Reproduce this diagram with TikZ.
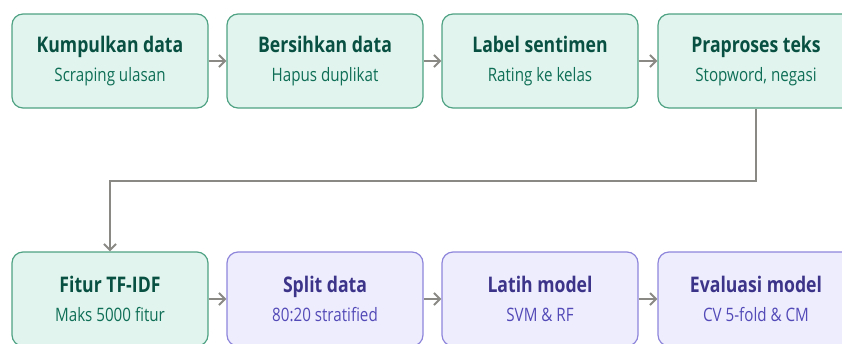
\documentclass[tikz,border=0pt]{standalone}
\usepackage{fontspec}
\setmainfont{Open Sans}[FakeStretch=0.82]
\usetikzlibrary{arrows.meta,positioning}
\definecolor{AlurHijauIsi}{HTML}{E1F5EE}
\definecolor{AlurHijauGaris}{HTML}{4FA283}
\definecolor{AlurHijauJudul}{HTML}{085041}
\definecolor{AlurHijauSub}{HTML}{0F6E56}
\definecolor{AlurUnguIsi}{HTML}{EEEDFE}
\definecolor{AlurUnguGaris}{HTML}{8E86DB}
\definecolor{AlurUnguJudul}{HTML}{3C3489}
\definecolor{AlurUnguSub}{HTML}{534AB7}
\definecolor{AlurAbu}{HTML}{8A8984}
\tikzset{
  alur/hijau/.style={
    draw=AlurHijauGaris,
    line width=1.2pt,
    rounded corners=11pt,
    fill=AlurHijauIsi,
    align=center,
    text=AlurHijauSub,
    minimum width=196pt,
    minimum height=94pt,
    font=\fontsize{18.5}{29}\selectfont
  },
  alur/ungu/.style={
    alur/hijau,
    draw=AlurUnguGaris,
    fill=AlurUnguIsi,
    text=AlurUnguSub
  },
  alur/panah/.style={-{Straight Barb[length=6pt,width=12pt,line width=2pt]}, line width=2pt, draw=AlurAbu}
}
\newcommand{\judulH}[1]{{\color{AlurHijauJudul}\fontsize{21.5}{29}\selectfont\bfseries #1}}
\newcommand{\judulU}[1]{{\color{AlurUnguJudul}\fontsize{21.5}{29}\selectfont\bfseries #1}}

\begin{document}
\begin{tikzpicture}[x=1pt,y=-1pt]
  \useasboundingbox (0,0) rectangle (842,343);
  % baris atas
  \node[alur/hijau] (kumpul) at (110,61) {\judulH{Kumpulkan data}\\Scraping ulasan};
  \node[alur/hijau] (bersih) at (325,61) {\judulH{Bersihkan data}\\Hapus duplikat};
  \node[alur/hijau] (label) at (540,61) {\judulH{Label sentimen}\\Rating ke kelas};
  \node[alur/hijau] (prapros) at (756,61) {\judulH{Praproses teks}\\Stopword, negasi};
  % baris bawah
  \node[alur/hijau] (fitur) at (110,299) {\judulH{Fitur TF-IDF}\\Maks 5000 fitur};
  \node[alur/ungu] (split) at (325,299) {\judulU{Split data}\\80:20 stratified};
  \node[alur/ungu] (latih) at (540,299) {\judulU{Latih model}\\SVM \& RF};
  \node[alur/ungu] (eval) at (756,299) {\judulU{Evaluasi model}\\CV 5-fold \& CM};
  \foreach \a/\b in {kumpul/bersih,bersih/label,label/prapros,fitur/split,split/latih,latih/eval}{
    \draw[alur/panah] (\a) -- (\b);
  }
  \draw[alur/panah,rounded corners=0pt] (prapros.south) -- ++(0,72) -| (fitur.north);
\end{tikzpicture}
\end{document}
